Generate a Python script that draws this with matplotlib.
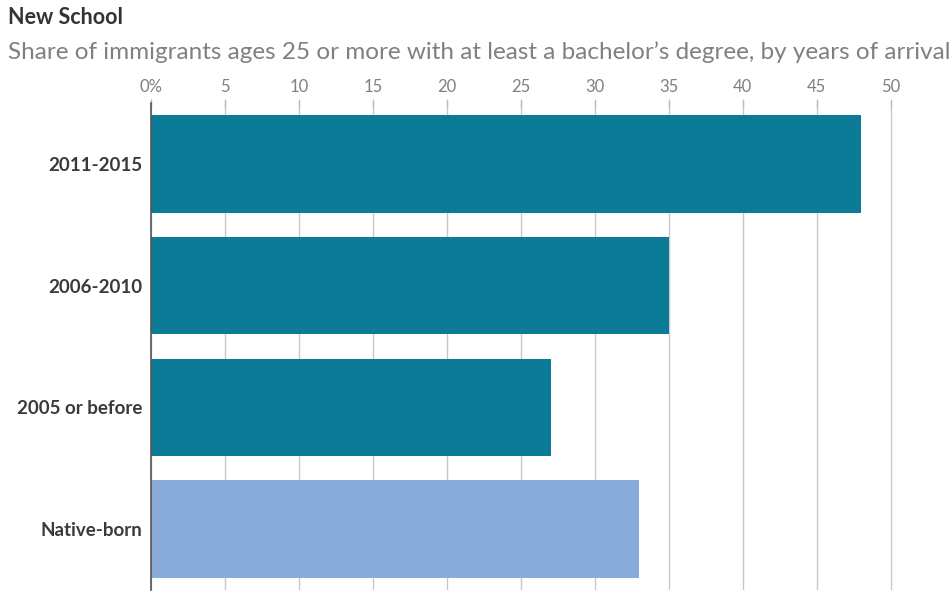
import matplotlib
matplotlib.use("Agg")
import matplotlib.pyplot as plt

# data
categories = ["2011-2015", "2006-2010", "2005 or before", "Native-born"]
values = [48, 35, 27, 33]
colors = ["#0b7b98", "#0b7b98", "#0b7b98", "#88abd9"]
xticks = [0, 5, 10, 15, 20, 25, 30, 35, 40, 45, 50]
xticklabels = ["0%", "5", "10", "15", "20", "25", "30", "35", "40", "45", "50"]

plt.rcParams["font.family"] = ["Lato", "DejaVu Sans"]

fig = plt.figure(figsize=(9.52, 5.92), dpi=100)
ax = fig.add_axes([151 / 952, 2 / 592, 799 / 952, 487 / 592])

y = range(len(categories))
ax.barh(y, values, height=0.8, color=colors, zorder=2)

ax.set_xlim(0, 54)
ax.set_ylim(3.5, -0.5)
ax.set_xticks(xticks)
ax.set_xticklabels(xticklabels)
ax.set_yticks(list(y))
ax.set_yticklabels(categories, fontweight="bold", color="#3a3a3a", fontsize=13.5)

ax.xaxis.tick_top()
ax.tick_params(axis="x", length=6, width=1, color="#bbbbbb", labelcolor="#808080",
               labelsize=12, pad=3, direction="inout")
ax.tick_params(axis="y", length=0, pad=6)
ax.grid(axis="x", color="#c8c8c8", linewidth=1, zorder=0)

for s in ["top", "right", "bottom"]:
    ax.spines[s].set_visible(False)
ax.spines["left"].set_color("#555555")
ax.spines["left"].set_linewidth(1.2)
ax.spines["left"].set_zorder(3)

fig.text(8 / 952, 1 - 18 / 592, "New School", fontsize=15.5, fontweight="bold",
         color="#333333", va="center", ha="left")
fig.text(8 / 952, 1 - 52 / 592,
         "Share of immigrants ages 25 or more with at least a bachelor\u2019s degree, by years of arrival",
         fontsize=17.5, color="#808080", va="center", ha="left")

fig.savefig("out.png", dpi=100)
